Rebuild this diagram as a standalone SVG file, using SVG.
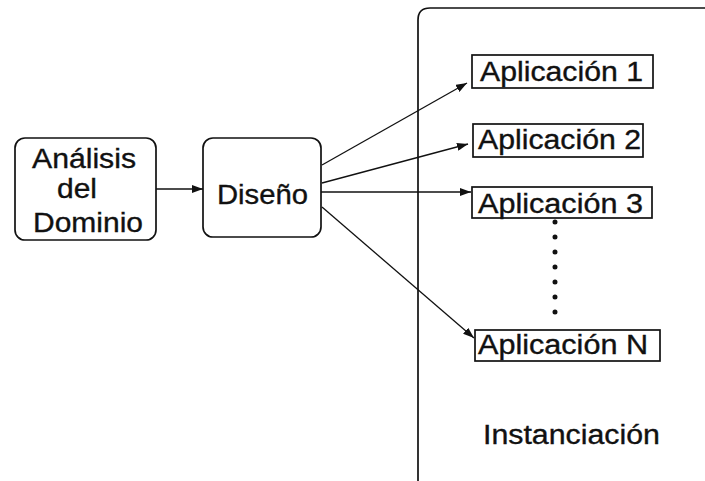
<svg xmlns="http://www.w3.org/2000/svg" width="705" height="481" viewBox="0 0 705 481">
<defs>
<marker id="ah" markerWidth="11" markerHeight="8" refX="11" refY="4" orient="auto" markerUnits="userSpaceOnUse">
<path d="M0,0 L11,4 L0,8 Z" fill="#111"/>
</marker>
<style>
.node{fill:#fff;stroke:#111;stroke-width:1.7}
.t{font-family:"Liberation Sans",Arial,sans-serif;font-size:27px;fill:#111;stroke:#111;stroke-width:0.35}
.c{stroke:#111;stroke-width:1.3;fill:none}
</style>
</defs>
<rect width="705" height="481" fill="#fff"/>
<g id="instanciacion">
<path class="node" style="fill:none" d="M418,481 V20 Q418,8 430,8 H705"/>
<text class="t" x="483" y="444" textLength="177" lengthAdjust="spacingAndGlyphs">Instanciación</text>
</g>
<g id="analisis">
<rect class="node" x="15" y="138" width="141" height="102" rx="10"/>
<text class="t" x="32" y="168" textLength="104" lengthAdjust="spacingAndGlyphs">Análisis</text>
<text class="t" x="57" y="198" textLength="40" lengthAdjust="spacingAndGlyphs">del</text>
<text class="t" x="33" y="232" textLength="110" lengthAdjust="spacingAndGlyphs">Dominio</text>
</g>
<g id="diseno">
<rect class="node" x="203" y="138" width="118" height="99" rx="10"/>
<text class="t" x="217" y="204" textLength="91" lengthAdjust="spacingAndGlyphs">Diseño</text>
</g>
<g id="app1">
<rect class="node" x="472" y="55" width="181" height="33"/>
<text class="t" x="480" y="81" textLength="163" lengthAdjust="spacingAndGlyphs">Aplicación 1</text>
</g>
<g id="app2">
<rect class="node" x="473" y="124" width="170" height="33"/>
<text class="t" x="478" y="149" textLength="163" lengthAdjust="spacingAndGlyphs">Aplicación 2</text>
</g>
<g id="app3">
<rect class="node" x="472" y="187" width="180" height="31"/>
<text class="t" x="478" y="213" textLength="165" lengthAdjust="spacingAndGlyphs">Aplicación 3</text>
</g>
<g id="appN">
<rect class="node" x="475" y="330" width="185" height="31"/>
<text class="t" x="478" y="354" textLength="170" lengthAdjust="spacingAndGlyphs">Aplicación N</text>
</g>
<g id="connectors">
<line class="c" x1="156" y1="189" x2="203" y2="189" marker-end="url(#ah)"/>
<line class="c" x1="322" y1="165" x2="467" y2="83" marker-end="url(#ah)"/>
<line class="c" x1="322" y1="183" x2="468" y2="144" marker-end="url(#ah)"/>
<line class="c" x1="321" y1="192" x2="471" y2="192" marker-end="url(#ah)"/>
<line class="c" x1="322" y1="207" x2="474" y2="338" marker-end="url(#ah)"/>
<line x1="555" y1="222" x2="555" y2="327" stroke="#111" stroke-width="5" stroke-linecap="round" stroke-dasharray="0 15"/>
</g>
</svg>
